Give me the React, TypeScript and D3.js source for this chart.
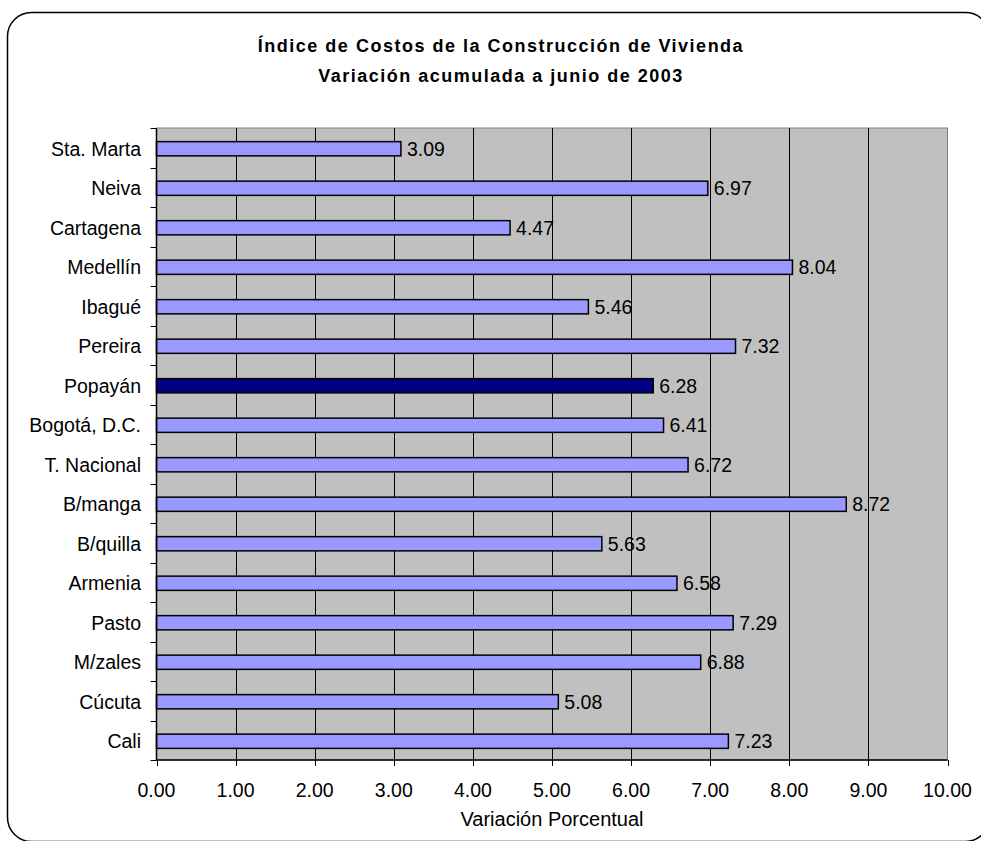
import React, { useEffect, useRef } from 'react';
import * as d3 from 'd3';

const cities = [
  'Sta. Marta', 'Neiva', 'Cartagena', 'Medellín', 'Ibagué', 'Pereira', 'Popayán', 'Bogotá, D.C.',
  'T. Nacional', 'B/manga', 'B/quilla', 'Armenia', 'Pasto', 'M/zales', 'Cúcuta', 'Cali',
];
const variacion = [3.09, 6.97, 4.47, 8.04, 5.46, 7.32, 6.28, 6.41, 6.72, 8.72, 5.63, 6.58, 7.29, 6.88, 5.08, 7.23];
const xTicks = [0, 1, 2, 3, 4, 5, 6, 7, 8, 9, 10];
const highlighted = 'Popayán';
const titleLines = ['Índice de Costos de la Construcción de Vivienda', 'Variación acumulada a junio de 2003'];
const xTitle = 'Variación Porcentual';

const font = '"Liberation Sans", Arial, sans-serif';
const fs = 19.5;

export default function App() {
  const ref = useRef<SVGSVGElement>(null);

  useEffect(() => {
    const width = 981, height = 841;
    const left = 156.5, right = 947.5, top = 128, bottom = 760;

    const svg = d3.select(ref.current);
    svg.selectAll('*').remove();

    // outer rounded frame
    svg.append('rect')
      .attr('x', 7.5).attr('y', 12.5)
      .attr('width', 982).attr('height', 829)
      .attr('rx', 24).attr('ry', 24)
      .attr('fill', '#fff')
      .attr('stroke', '#000')
      .attr('stroke-width', 1.5);

    const title = svg.append('text')
      .attr('text-anchor', 'middle')
      .attr('font-family', font)
      .attr('font-weight', 'bold')
      .attr('font-size', 18)
      .attr('letter-spacing', 1.5);
    titleLines.forEach((t, i) => {
      title.append('tspan').attr('x', 501).attr('y', 52 + i * 30).text(t);
    });

    const x = d3.scaleLinear().domain([0, 10]).range([left, right]);
    const y = d3.scaleBand<string>().domain(cities).range([top, bottom]).padding(0);

    svg.append('rect')
      .attr('x', left).attr('y', top)
      .attr('width', right - left).attr('height', bottom - top)
      .attr('fill', '#c0c0c0')
      .attr('stroke', '#808080');

    svg.append('g')
      .selectAll('line')
      .data(xTicks.slice(1, -1))
      .enter()
      .append('line')
        .attr('x1', d => Math.round(x(d)) + 0.5).attr('x2', d => Math.round(x(d)) + 0.5)
        .attr('y1', top).attr('y2', bottom)
        .attr('stroke', '#000');

    const bh = y.bandwidth() * 0.36;
    svg.append('g')
      .selectAll('rect')
      .data(cities)
      .enter()
      .append('rect')
        .attr('x', left)
        .attr('y', d => (y(d) as number) + (y.bandwidth() - bh) / 2 + 1)
        .attr('width', (d, i) => x(variacion[i]) - left)
        .attr('height', bh)
        .attr('fill', d => d === highlighted ? '#000080' : '#9999ff')
        .attr('stroke', '#000')
        .attr('stroke-width', 1.5);

    svg.append('g')
      .selectAll('text')
      .data(cities)
      .enter()
      .append('text')
        .attr('x', (d, i) => x(variacion[i]) + 6)
        .attr('y', d => (y(d) as number) + y.bandwidth() / 2 + 1)
        .attr('dy', '0.35em')
        .attr('font-family', font)
        .attr('font-size', fs)
        .text((d, i) => variacion[i].toFixed(2));

    // left axis
    svg.append('line')
      .attr('x1', left).attr('x2', left).attr('y1', top).attr('y2', bottom + 0.5)
      .attr('stroke', '#000').attr('stroke-width', 1.5);
    svg.append('g')
      .selectAll('line')
      .data(d3.range(cities.length + 1))
      .enter()
      .append('line')
        .attr('x1', left - 6).attr('x2', left)
        .attr('y1', i => Math.round(top + i * y.step()) + 0.5)
        .attr('y2', i => Math.round(top + i * y.step()) + 0.5)
        .attr('stroke', '#000');
    svg.append('g')
      .selectAll('text')
      .data(cities)
      .enter()
      .append('text')
        .attr('x', 141)
        .attr('y', d => (y(d) as number) + y.bandwidth() / 2 + 1)
        .attr('dy', '0.35em')
        .attr('text-anchor', 'end')
        .attr('font-family', font)
        .attr('font-size', fs)
        .text(d => d);

    // bottom axis
    svg.append('line')
      .attr('x1', left).attr('x2', right).attr('y1', bottom).attr('y2', bottom)
      .attr('stroke', '#000').attr('stroke-width', 1.5);
    svg.append('g')
      .selectAll('line')
      .data(xTicks)
      .enter()
      .append('line')
        .attr('x1', d => Math.round(x(d)) + 0.5).attr('x2', d => Math.round(x(d)) + 0.5)
        .attr('y1', bottom).attr('y2', bottom + 6)
        .attr('stroke', '#000');
    svg.append('g')
      .selectAll('text')
      .data(xTicks)
      .enter()
      .append('text')
        .attr('x', d => x(d))
        .attr('y', 797)
        .attr('text-anchor', 'middle')
        .attr('font-family', font)
        .attr('font-size', fs)
        .text(d => d.toFixed(2));

    svg.append('text')
      .attr('x', (left + right) / 2)
      .attr('y', 826)
      .attr('text-anchor', 'middle')
      .attr('font-family', font)
      .attr('font-size', 20)
      .text(xTitle);

    svg.attr('width', width).attr('height', height);
  }, []);

  return (
    <svg ref={ref} width={981} height={841} style={{ position: 'absolute', left: 0, top: 0 }} />
  );
}
